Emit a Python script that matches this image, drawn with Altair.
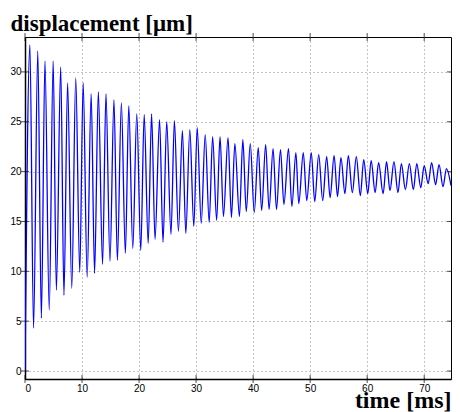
import altair as alt
import pandas as pd

# Curve extrema (time in ms, displacement in µm)
start_t = [0.0]
start_v = [0.0]
peaks_t = [0.86, 2.24, 3.5, 4.94, 6.26, 7.47, 8.9, 10.2, 11.6, 12.86, 14.2, 15.6, 16.9, 18.2,
           19.6, 20.9, 22.2, 23.6, 24.85, 26.2, 27.6, 28.9, 30.2, 31.6, 32.9, 34.2, 35.6, 36.8,
           38.2, 39.5, 40.9, 42.2, 43.5, 44.8, 46.2, 47.5, 48.8, 50.2, 51.5, 52.9, 54.2, 55.4,
           56.7, 58.1, 59.4, 60.7, 62.0, 63.4, 64.7, 66.0, 67.4, 68.7, 70.0, 71.3, 72.6, 73.9]
peaks_v = [32.7, 32.1, 31.1, 31.1, 30.5, 28.9, 29.4, 28.9, 27.8, 28.0, 27.8, 27.2, 26.9, 26.6,
           25.8, 25.7, 25.8, 25.2, 25.0, 25.1, 24.1, 24.2, 24.4, 23.7, 23.5, 23.5, 23.4, 22.8,
           23.2, 22.8, 22.4, 22.7, 22.3, 22.2, 22.3, 21.9, 21.9, 21.9, 21.7, 21.5, 21.6, 21.4,
           21.6, 21.5, 21.2, 21.1, 20.9, 21.0, 21.0, 20.8, 20.8, 20.8, 20.6, 20.9, 20.7, 20.3]
troughs_t = [1.5, 2.87, 4.25, 5.5, 6.83, 8.2, 9.6, 10.9, 12.2, 13.6, 14.9, 16.2, 17.6, 18.9,
             20.3, 21.6, 22.8, 24.2, 25.6, 26.9, 28.2, 29.6, 30.9, 32.3, 33.6, 34.8, 36.2, 37.6,
             38.8, 40.2, 41.5, 42.8, 44.1, 45.4, 46.8, 48.0, 49.4, 50.8, 52.2, 53.5, 54.8, 56.1,
             57.4, 58.8, 60.1, 61.4, 62.8, 64.0, 65.4, 66.7, 68.1, 69.4, 70.7, 72.0, 73.3]
troughs_v = [4.3, 5.3, 6.1, 8.1, 7.6, 8.3, 9.9, 9.4, 9.8, 10.7, 11.0, 11.1, 11.8, 12.3,
             12.1, 12.8, 13.2, 12.9, 13.7, 14.0, 13.8, 14.5, 14.8, 14.9, 15.1, 15.5, 15.4, 15.5,
             16.0, 15.9, 16.1, 16.2, 16.2, 16.7, 16.5, 16.8, 17.1, 17.0, 17.1, 17.4, 17.5, 17.8,
             17.9, 17.6, 17.8, 17.9, 17.8, 18.1, 17.9, 18.2, 18.2, 18.4, 18.8, 18.7, 18.5]
end_t = [74.7]
end_v = [18.6]

x_ticks = [0, 10, 20, 30, 40, 50, 60, 70]
y_ticks = [0, 5, 10, 15, 20, 25, 30]

W, H = 426, 342
XDOM = [0, 74.7]
YDOM = [-0.8, 33.5]

df = pd.DataFrame({
    "t": start_t + peaks_t + troughs_t + end_t,
    "v": start_v + peaks_v + troughs_v + end_v,
}).sort_values("t").reset_index(drop=True)

xs = alt.Scale(domain=XDOM, nice=False, zero=False)
ys = alt.Scale(domain=YDOM, nice=False, zero=False)

x_axis = alt.Axis(
    values=x_ticks, title="time [ms]", titleAngle=0, titleAlign="right",
    titleBaseline="alphabetic", titleX=W, titleY=28, titleFontSize=24,
    labelPadding=4)
y_axis = alt.Axis(
    values=y_ticks, title="displacement [μm]", titleAngle=0, titleAlign="left",
    titleBaseline="alphabetic", titleX=-15, titleY=-7, titleFontSize=23,
    labelPadding=4)

line = alt.Chart(df).mark_line(
    color="#0000ff", strokeWidth=1.3, interpolate="monotone", clip=True
).encode(
    x=alt.X("t:Q", scale=xs, axis=x_axis),
    y=alt.Y("v:Q", scale=ys, axis=y_axis),
)

xt = pd.DataFrame({"t": x_ticks})
yt = pd.DataFrame({"v": y_ticks})

tick_bottom = alt.Chart(xt).mark_tick(color="black", size=8, thickness=1, orient="vertical").encode(
    x=alt.X("t:Q", scale=xs, axis=x_axis), y=alt.value(H))
tick_top = alt.Chart(xt).mark_tick(color="black", size=8, thickness=1, orient="vertical").encode(
    x=alt.X("t:Q", scale=xs, axis=x_axis), y=alt.value(0))
tick_left = alt.Chart(yt).mark_tick(color="black", size=8, thickness=1, orient="horizontal").encode(
    y=alt.Y("v:Q", scale=ys, axis=y_axis), x=alt.value(0))
tick_right = alt.Chart(yt).mark_tick(color="black", size=8, thickness=1, orient="horizontal").encode(
    y=alt.Y("v:Q", scale=ys, axis=y_axis), x=alt.value(W))

chart = alt.layer(line, tick_bottom, tick_top, tick_left, tick_right).properties(
    width=W, height=H,
    autosize=alt.AutoSizeParams(type="none"),
    padding={"left": 17, "top": 29, "right": 1, "bottom": 33},
).configure_view(
    stroke="black", strokeWidth=1
).configure_axis(
    domainColor="black", domainWidth=1.5, ticks=False,
    labelFont="Liberation Sans", labelFontSize=10, labelColor="black",
    grid=True, gridDash=[1, 3], gridColor="#888888", gridWidth=1,
    titleFont="Liberation Serif", titleFontWeight="bold", titleColor="black",
)

chart.save("out.html", embed_options={"renderer": "svg", "actions": False})
